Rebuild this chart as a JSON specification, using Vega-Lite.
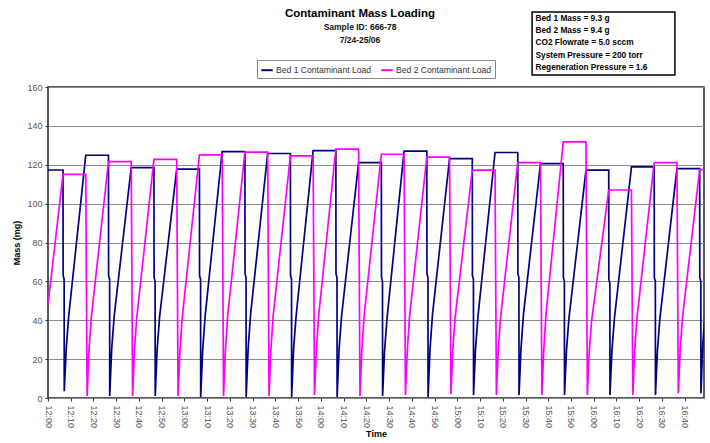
{
  "$schema": "https://vega.github.io/schema/vega-lite/v6.json",
  "width": 656,
  "height": 311,
  "autosize": {"type": "none"},
  "padding": {"left": 48, "top": 87, "right": 6, "bottom": 45},
  "background": "white",
  "config": {
    "font": "Liberation Sans",
    "view": {"stroke": "#222222", "strokeWidth": 1.5}
  },
  "title": {
    "text": "Contaminant Mass Loading",
    "subtitle": ["Sample ID: 666-78", "7/24-25/06"],
    "fontSize": 11.5,
    "fontWeight": "bold",
    "color": "#000000",
    "subtitleFontSize": 8.5,
    "subtitleFontWeight": "bold",
    "subtitleColor": "#111111",
    "subtitleLineHeight": 13,
    "subtitlePadding": 3,
    "anchor": "middle",
    "frame": "group",
    "dx": -16,
    "offset": -33
  },
  "layer": [
    {
      "data": {"values": [
        {"t":0,"v":117.3},
        {"t":6.6,"v":117.3},{"t":6.65,"v":63},{"t":7.1,"v":61},{"t":7.15,"v":3.5},{"t":8.0,"v":25},{"t":9.1,"v":42},{"t":16.6,"v":124.9},
        {"t":26.6,"v":124.9},{"t":26.65,"v":63},{"t":27.1,"v":61},{"t":27.15,"v":1},{"t":28.0,"v":25},{"t":29.1,"v":42},{"t":36.6,"v":118.5},
        {"t":46.6,"v":118.5},{"t":46.65,"v":62},{"t":47.1,"v":60},{"t":47.15,"v":1},{"t":48.0,"v":25},{"t":49.1,"v":42},{"t":56.6,"v":117.7},
        {"t":66.6,"v":117.7},{"t":66.65,"v":63},{"t":67.1,"v":61},{"t":67.15,"v":0.5},{"t":68.0,"v":24},{"t":69.1,"v":42},{"t":76.6,"v":126.8},
        {"t":86.6,"v":126.8},{"t":86.65,"v":64},{"t":87.1,"v":62},{"t":87.15,"v":0.5},{"t":88.0,"v":25},{"t":89.1,"v":43},{"t":96.6,"v":125.8},
        {"t":106.6,"v":125.8},{"t":106.65,"v":63},{"t":107.1,"v":61},{"t":107.15,"v":0.5},{"t":108.0,"v":25},{"t":109.1,"v":42},{"t":116.6,"v":127.3},
        {"t":126.6,"v":127.3},{"t":126.65,"v":64},{"t":127.1,"v":62},{"t":127.15,"v":0.5},{"t":128.0,"v":25},{"t":129.1,"v":42},{"t":136.6,"v":121.1},
        {"t":146.6,"v":121.1},{"t":146.65,"v":62},{"t":147.1,"v":60},{"t":147.15,"v":1},{"t":148.0,"v":24},{"t":149.1,"v":41},{"t":156.6,"v":127.0},
        {"t":166.6,"v":127.0},{"t":166.65,"v":64},{"t":167.1,"v":62},{"t":167.15,"v":0.5},{"t":168.0,"v":25},{"t":169.1,"v":43},{"t":176.6,"v":123.2},
        {"t":186.6,"v":123.2},{"t":186.65,"v":63},{"t":187.1,"v":61},{"t":187.15,"v":1.5},{"t":188.0,"v":25},{"t":189.1,"v":42},{"t":196.6,"v":126.3},
        {"t":206.6,"v":126.3},{"t":206.65,"v":64},{"t":207.1,"v":62},{"t":207.15,"v":1.5},{"t":208.0,"v":25},{"t":209.1,"v":43},{"t":216.6,"v":120.6},
        {"t":226.6,"v":120.6},{"t":226.65,"v":62},{"t":227.1,"v":60},{"t":227.15,"v":1.5},{"t":228.0,"v":24},{"t":229.1,"v":41},{"t":236.6,"v":117.2},
        {"t":246.6,"v":117.2},{"t":246.65,"v":61},{"t":247.1,"v":59},{"t":247.15,"v":1.5},{"t":248.0,"v":24},{"t":249.1,"v":41},{"t":256.6,"v":118.9},
        {"t":266.6,"v":118.9},{"t":266.65,"v":62},{"t":267.1,"v":60},{"t":267.15,"v":1.5},{"t":268.0,"v":24},{"t":269.1,"v":41},{"t":276.6,"v":118.0},
        {"t":286.6,"v":118.0},{"t":286.65,"v":62},{"t":287.1,"v":60},{"t":287.15,"v":2.5},{"t":288.0,"v":28},{"t":289.1,"v":46}
      ]},
      "mark": {"type": "line", "strokeWidth": 1.7, "clip": true},
      "encoding": {
        "x": {
          "field": "t",
          "type": "quantitative",
          "scale": {"domain": [0, 288.5], "nice": false, "zero": false},
          "axis": {
            "values": [0,10,20,30,40,50,60,70,80,90,100,110,120,130,140,150,160,170,180,190,200,210,220,230,240,250,260,270,280],
            "tickCount": 40,
            "labelExpr": "(12 + floor(datum.value / 60)) + ':' + (datum.value % 60 == 0 ? '00' : datum.value % 60)",
            "labelAngle": 90,
            "labelAlign": "left",
            "labelBaseline": "middle",
            "labelFontSize": 9,
            "labelColor": "#555555",
            "labelPadding": 4,
            "labelOverlap": false,
            "labelFlush": false,
            "grid": false,
            "domain": false,
            "tickSize": 3,
            "tickColor": "#333333",
            "title": "Time",
            "titleFontSize": 9,
            "titleFontWeight": "bold",
            "titleColor": "#000000",
            "titlePadding": 2
          }
        },
        "y": {
          "field": "v",
          "type": "quantitative",
          "scale": {"domain": [0, 160], "nice": false},
          "axis": {
            "values": [0,20,40,60,80,100,120,140,160],
            "tickCount": 12,
            "labelOverlap": false,
            "grid": true,
            "gridColor": "#8a8a8a",
            "gridWidth": 1,
            "domain": false,
            "tickSize": 3,
            "tickColor": "#333333",
            "labelFontSize": 9,
            "labelColor": "#555555",
            "labelPadding": 3,
            "title": "Mass (mg)",
            "titleFontSize": 9,
            "titleFontWeight": "bold",
            "titleColor": "#000000",
            "titlePadding": 5
          }
        },
        "color": {
          "datum": "Bed 1 Contaminant Load",
          "type": "nominal",
          "scale": {
            "domain": ["Bed 1 Contaminant Load", "Bed 2 Contaminant Load"],
            "range": ["#000080", "#ff00ff"]
          },
          "legend": {
            "orient": "none",
            "legendX": 209,
            "legendY": -27,
            "direction": "horizontal",
            "title": null,
            "symbolType": "stroke",
            "symbolStrokeWidth": 2,
            "symbolSize": 130,
            "labelFontSize": 8.6,
            "labelColor": "#333333",
            "labelOffset": 2,
            "columnPadding": 5,
            "padding": 3,
            "strokeColor": "#888888",
            "fillColor": "white"
          }
        }
      }
    },
    {
      "data": {"values": [
        {"t":0,"v":48},{"t":6.6,"v":115},
        {"t":16.6,"v":115},{"t":17.2,"v":1},{"t":18.0,"v":24},{"t":19.0,"v":41},{"t":26.6,"v":121.6},
        {"t":36.6,"v":121.6},{"t":37.2,"v":1},{"t":38.0,"v":24},{"t":39.0,"v":41},{"t":46.6,"v":122.8},
        {"t":56.6,"v":122.8},{"t":57.2,"v":1},{"t":58.0,"v":24},{"t":59.0,"v":41},{"t":66.6,"v":125.1},
        {"t":76.6,"v":125.1},{"t":77.2,"v":1},{"t":78.0,"v":24},{"t":79.0,"v":42},{"t":86.6,"v":126.5},
        {"t":96.6,"v":126.5},{"t":97.2,"v":1},{"t":98.0,"v":24},{"t":99.0,"v":42},{"t":106.6,"v":124.6},
        {"t":116.6,"v":124.6},{"t":117.2,"v":1.5},{"t":118.0,"v":24},{"t":119.0,"v":42},{"t":126.6,"v":128.0},
        {"t":136.6,"v":128.0},{"t":137.2,"v":1},{"t":138.0,"v":24},{"t":139.0,"v":42},{"t":146.6,"v":125.4},
        {"t":156.6,"v":125.4},{"t":157.2,"v":1.5},{"t":158.0,"v":24},{"t":159.0,"v":42},{"t":166.6,"v":123.9},
        {"t":176.6,"v":123.9},{"t":177.2,"v":2},{"t":178.0,"v":24},{"t":179.0,"v":41},{"t":186.6,"v":117.2},
        {"t":196.6,"v":117.2},{"t":197.2,"v":1.5},{"t":198.0,"v":24},{"t":199.0,"v":41},{"t":206.6,"v":121.1},
        {"t":216.6,"v":121.1},{"t":217.2,"v":1.5},{"t":218.0,"v":24},{"t":219.0,"v":43},{"t":226.6,"v":131.8},
        {"t":236.6,"v":131.8},{"t":237.2,"v":1.5},{"t":238.0,"v":23},{"t":239.0,"v":39},{"t":246.6,"v":107.0},
        {"t":256.6,"v":107.0},{"t":257.2,"v":1.5},{"t":258.0,"v":24},{"t":259.0,"v":41},{"t":266.6,"v":121.1},
        {"t":276.6,"v":121.1},{"t":277.2,"v":2.5},{"t":278.0,"v":24},{"t":279.0,"v":41},{"t":286.6,"v":117.5},
        {"t":288.5,"v":117.5}
      ]},
      "mark": {"type": "line", "strokeWidth": 1.7, "clip": true},
      "encoding": {
        "x": {"field": "t", "type": "quantitative"},
        "y": {"field": "v", "type": "quantitative"},
        "color": {"datum": "Bed 2 Contaminant Load", "type": "nominal"}
      }
    },
    {
      "data": {"values": [{}]},
      "mark": {"type": "rect", "fill": "white", "stroke": "#000000", "strokeWidth": 1.5},
      "encoding": {
        "x": {"datum": 212.9, "type": "quantitative"},
        "x2": {"datum": 275.7},
        "y": {"datum": 198.6, "type": "quantitative"},
        "y2": {"datum": 166.2}
      }
    },
    {
      "data": {"values": [{}]},
      "mark": {
        "type": "text",
        "text": ["Bed 1 Mass = 9.3 g", "Bed 2 Mass = 9.4 g", "CO2 Flowrate = 5.0 sccm", "System Pressure = 200 torr", "Regeneration Pressure = 1.6"],
        "align": "left",
        "baseline": "top",
        "fontSize": 8.3,
        "fontWeight": "bold",
        "lineHeight": 12.2,
        "color": "#000000"
      },
      "encoding": {
        "x": {"datum": 214.4, "type": "quantitative"},
        "y": {"datum": 197.6, "type": "quantitative"}
      }
    }
  ]
}
